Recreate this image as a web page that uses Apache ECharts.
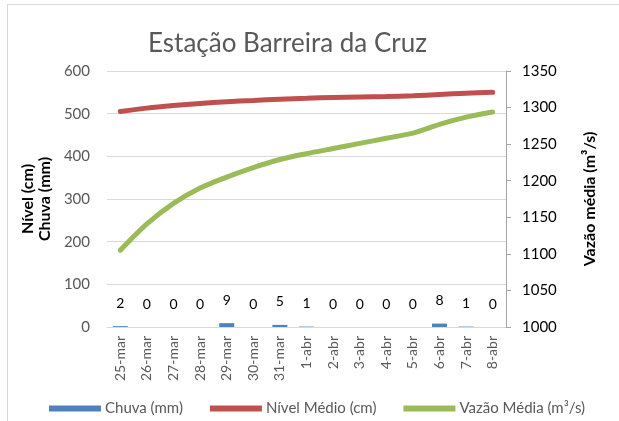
<html>
<head>
<meta charset="utf-8">
<script src="https://cdn.jsdelivr.net/npm/echarts@6/dist/echarts.min.js"></script>
<style>
  body { margin: 0; background: #fff; overflow: hidden; }
  #frame { position: absolute; left: 7px; top: 4px; width: 640px; height: 440px;
           border-left: 1px solid #d9d9d9; border-top: 1px solid #d9d9d9; }
  #main { position: absolute; left: 0; top: 0; width: 619px; height: 421px; }
</style>
</head>
<body>
<div id="frame"></div>
<div id="main"></div>
<script type="text/javascript">
// categorias (datas)
var dias = ['25-mar','26-mar','27-mar','28-mar','29-mar','30-mar','31-mar','1-abr','2-abr','3-abr','4-abr','5-abr','6-abr','7-abr','8-abr'];
// chuva (mm)
var chuva = [2, 0, 0, 0, 9, 0, 5, 1, 0, 0, 0, 0, 8, 1, 0];
// nivel medio (cm)
var nivel = [505, 513, 519, 524, 528, 531, 534, 536, 538, 539, 540, 542, 545, 548, 550];
// vazao media (m3/s)
var vazao = [1105, 1141, 1169, 1190, 1205, 1218, 1229, 1237, 1244, 1251, 1258, 1265, 1277, 1287, 1294];

var fonte = 'Lato, "Open Sans", sans-serif';
var cinza = '#595959';

var myChart = echarts.init(document.getElementById('main'));
myChart.setOption({
    textStyle: { fontFamily: fonte },
    title: {
        text: 'Estação Barreira da Cruz',
        left: 143,
        top: 26,
        textStyle: { fontFamily: fonte, fontSize: 26, fontWeight: 'normal', color: cinza }
    },
    legend: {
        left: 44,
        top: 396,
        itemWidth: 52,
        itemHeight: 6,
        itemGap: 27,
        icon: 'rect',
        textStyle: { fontFamily: fonte, fontSize: 15, color: cinza, padding: [0, 0, 0, -1] },
        data: ['Chuva (mm)', 'Nível Médio (cm)', 'Vazão Média (m³/s)']
    },
    grid: { left: 107, right: 113, top: 71, bottom: 94 },
    xAxis: {
        type: 'category',
        data: dias,
        axisLine: { lineStyle: { color: '#d9d9d9' } },
        axisTick: { show: false },
        axisLabel: { rotate: 90, margin: 9, fontSize: 14, color: cinza, fontFamily: fonte }
    },
    yAxis: [{
        type: 'value',
        min: 0, max: 600, interval: 100,
        name: 'Nível (cm)\nChuva (mm)',
        nameLocation: 'middle',
        nameRotate: 90,
        nameGap: 54,
        nameTextStyle: { fontFamily: fonte, fontSize: 16, fontWeight: 'bold', color: '#000', lineHeight: 17 },
        axisLine: { show: false },
        axisTick: { show: false },
        axisLabel: { fontSize: 15, color: cinza, margin: 17, fontFamily: fonte },
        splitLine: { lineStyle: { color: '#d9d9d9' } }
    }, {
        type: 'value',
        min: 1000, max: 1350, interval: 50,
        name: 'Vazão média (m³/s)',
        nameLocation: 'middle',
        nameRotate: 90,
        nameGap: 76,
        nameTextStyle: { fontFamily: fonte, fontSize: 16, fontWeight: 'bold', color: '#000' },
        axisLine: { show: true, lineStyle: { color: '#a6a6a6' } },
        axisTick: { show: true, inside: false, length: 5, lineStyle: { color: '#a6a6a6' } },
        axisLabel: { fontSize: 15, color: '#000', margin: 16, fontFamily: fonte,
                     formatter: function (v) { return String(v); } },
        splitLine: { show: false }
    }],
    series: [{
        name: 'Chuva (mm)',
        type: 'bar',
        yAxisIndex: 0,
        data: chuva,
        barWidth: 15,
        itemStyle: { color: '#4f81bd' },
        label: { show: true, position: 'top', distance: 16, fontSize: 14, color: '#000', fontFamily: fonte }
    }, {
        name: 'Nível Médio (cm)',
        type: 'line',
        yAxisIndex: 0,
        data: nivel,
        smooth: 0.3,
        symbol: 'none',
        lineStyle: { width: 5, color: '#c0504d', cap: 'round' },
        itemStyle: { color: '#c0504d' }
    }, {
        name: 'Vazão Média (m³/s)',
        type: 'line',
        yAxisIndex: 1,
        data: vazao,
        smooth: 0.3,
        symbol: 'none',
        lineStyle: { width: 5, color: '#9bbb59', cap: 'round' },
        itemStyle: { color: '#9bbb59' }
    }]
});
</script>
</body>
</html>
